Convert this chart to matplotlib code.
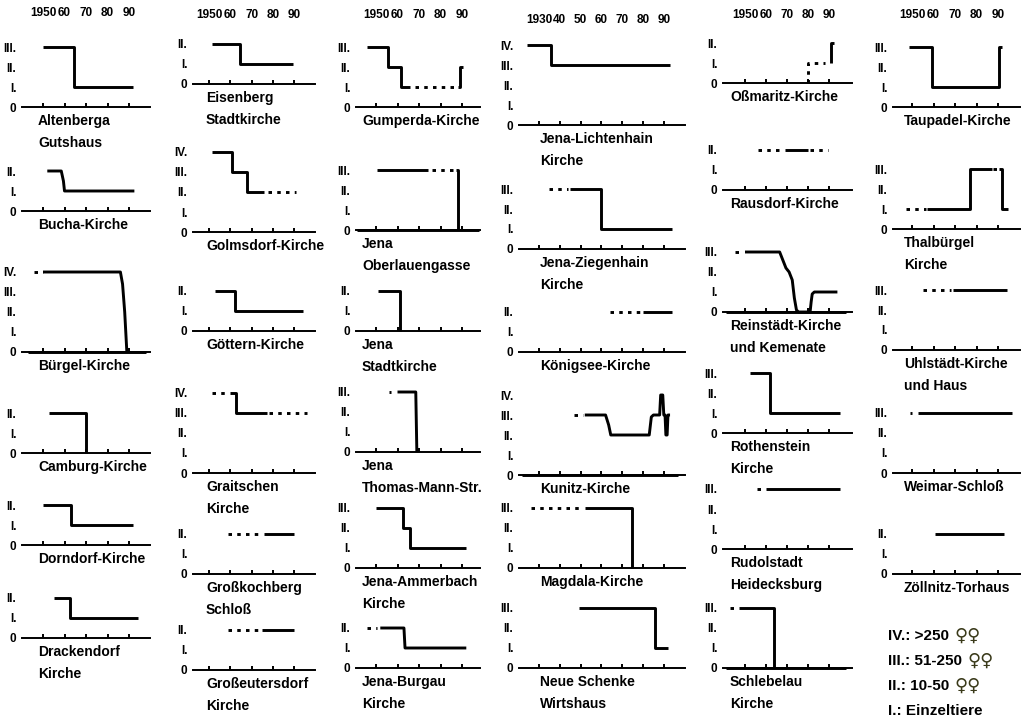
import matplotlib.pyplot as plt
from matplotlib.transforms import blended_transform_factory

plt.rcParams['font.family'] = ['Liberation Sans', 'DejaVu Sans']
plt.rcParams['font.weight'] = 'bold'

# Bestandsklassen und Jahre
LEVELS = ['0', 'I.', 'II.', 'III.', 'IV.']
YEARS = [1950, 1960, 1970, 1980, 1990]
YEAR_LABELS = ['1950', '60', '70', '80', '90']
YEARS_LONG = [1930, 1940, 1950, 1960, 1970, 1980, 1990]
YEAR_LABELS_LONG = ['1930', '40', '50', '60', '70', '80', '90']

# ---- Daten: (Jahr, Klasse); _obs = belegt (Linie), _est = vermutet (punktiert)
# Spalte 1
altenberga_obs = [[(1950, 3), (1964.5, 3), (1964.5, 1), (1992, 1)]]
altenberga_est = []
bucha_obs = [[(1952, 2), (1958.5, 2), (1959.5, 1.5), (1960, 1), (1992.5, 1)]]
bucha_est = []
buergel_obs = [[(1950, 4), (1986, 4), (1987, 3.4), (1988, 2), (1989, 0)],
               [(1943, 0), (1998, 0)]]
buergel_est = [[(1946, 4), (1950, 4)]]
camburg_obs = [[(1953, 2), (1970, 2), (1970, 0)]]
camburg_est = []
dorndorf_obs = [[(1950, 2), (1963, 2), (1963, 1), (1992, 1)]]
dorndorf_est = []
drackendorf_obs = [[(1955, 2), (1962.5, 2), (1962.5, 1), (1994, 1)]]
drackendorf_est = []

# Spalte 2
eisenberg_obs = [[(1951.5, 2), (1964.5, 2), (1964.5, 1), (1989.5, 1)]]
eisenberg_est = []
golmsdorf_obs = [[(1951.5, 4), (1961, 4), (1961, 3), (1968, 3), (1968, 2), (1976, 2)]]
golmsdorf_est = [[(1977.5, 2), (1991, 2)]]
goettern_obs = [[(1953, 2), (1962, 2), (1962, 1), (1994, 1)]]
goettern_est = []
graitschen_obs = [[(1960, 4), (1962.5, 4), (1962.5, 3), (1977, 3)]]
graitschen_est = [[(1951.5, 4), (1959, 4)], [(1978, 3), (1996, 3)]]
grosskochberg_obs = [[(1976, 2), (1990, 2)]]
grosskochberg_est = [[(1959, 2), (1975, 2)]]
grosseutersdorf_obs = [[(1975, 2), (1990, 2)]]
grosseutersdorf_est = [[(1959, 2), (1974, 2)]]

# Spalte 3
gumperda_obs = [[(1946, 3), (1955.5, 3), (1955.5, 2), (1961.5, 2), (1961.5, 1), (1966, 1)],
                [(1988, 1), (1989, 1), (1989, 2), (1990.5, 2)]]
gumperda_est = [[(1968, 1), (1987, 1)]]
oberlauengasse_obs = [[(1950.5, 3), (1974, 3)], [(1987, 3), (1988, 3), (1988, 0)],
                      [(1941, 0), (1998, 0)]]
oberlauengasse_est = [[(1976, 3), (1986, 3)]]
stadtkirche_obs = [[(1951, 2), (1961, 2), (1961, 0)]]
stadtkirche_est = []
thomasmann_obs = [[(1960, 3), (1968.5, 3), (1969, 0)]]
thomasmann_est = [[(1956, 3), (1957, 3)]]
ammerbach_obs = [[(1950, 3), (1962.5, 3), (1962.5, 2), (1966, 2), (1966, 1), (1992, 1)]]
ammerbach_est = []
burgau_obs = [[(1952, 2), (1963, 2), (1963.5, 1), (1992, 1)]]
burgau_est = [[(1946, 2), (1950.5, 2)]]

# Spalte 4 (ab 1930)
lichtenhain_obs = [[(1924, 4), (1936, 4), (1936, 3), (1993, 3)]]
lichtenhain_est = []
ziegenhain_obs = [[(1945, 3), (1960, 3), (1960, 1), (1994, 1)]]
ziegenhain_est = [[(1935, 3), (1944, 3)]]
koenigsee_obs = [[(1980, 2), (1994, 2)]]
koenigsee_est = [[(1964, 2), (1979, 2)]]
kunitz_obs = [[(1952, 3), (1962, 3), (1963.5, 2.5), (1964.5, 2), (1983, 2), (1984, 2.9),
               (1985, 3), (1988, 3), (1988.5, 4), (1989.5, 4), (1990, 3), (1990.6, 3),
               (1991, 2), (1991.6, 2), (1992, 3), (1993, 3)],
              [(1922, 0), (1997, 0)]]
kunitz_est = [[(1947, 3), (1951, 3)]]
magdala_obs = [[(1952, 3), (1974.5, 3), (1974.5, 0)]]
magdala_est = [[(1926, 3), (1951, 3)]]
neueschenke_obs = [[(1949, 3), (1986, 3), (1986, 1), (1992, 1)]]
neueschenke_est = []

# Spalte 5
ossmaritz_obs = [[(1991, 1), (1991, 2), (1992.5, 2)]]
ossmaritz_est = [[(1980, 0), (1980, 1), (1988, 1)]]
rausdorf_obs = [[(1969, 2), (1980, 2)]]
rausdorf_est = [[(1956, 2), (1968, 2)], [(1981, 2), (1989.5, 2)]]
reinstaedt_obs = [[(1950, 3), (1966.5, 3), (1968, 2.6), (1969.5, 2.2), (1971, 2.0),
                   (1972.5, 1.6), (1973.5, 0.7), (1974.5, 0.1), (1975.5, 0),
                   (1981, 0), (1981.5, 0.5), (1982, 0.9), (1983, 1), (1994, 1)],
                  [(1941, 0), (1998, 0)]]
reinstaedt_est = [[(1945, 3), (1949, 3)]]
rothenstein_obs = [[(1952.5, 3), (1962, 3), (1962, 1), (1995, 1)]]
rothenstein_est = []
rudolstadt_obs = [[(1960, 3), (1995, 3)]]
rudolstadt_est = [[(1955.5, 3), (1959, 3)]]
schlebelau_obs = [[(1947, 3), (1964, 3), (1964, 0)], [(1941, 0), (1998, 0)]]
schlebelau_est = [[(1943, 3), (1946, 3)]]

# Spalte 6
taupadel_obs = [[(1948.5, 3), (1959.5, 3), (1959.5, 1), (1990.5, 1), (1990.5, 3), (1992, 3)]]
taupadel_est = []
thalbuergel_obs = [[(1957, 1), (1977, 1), (1977, 3), (1987, 3)],
                   [(1990.5, 3), (1992, 3), (1992, 1), (1994.5, 1)]]
thalbuergel_est = [[(1947, 1), (1956.5, 1)], [(1987.5, 3), (1990, 3)]]
uhlstaedt_obs = [[(1969, 3), (1994, 3)]]
uhlstaedt_est = [[(1955, 3), (1968, 3)]]
weimar_obs = [[(1953, 3), (1996.5, 3)]]
weimar_est = [[(1949, 3), (1950, 3)]]
zoellnitz_obs = [[(1960.5, 2), (1993, 2)]]
zoellnitz_est = []

LEGEND = ['IV.: >250', 'III.: 51-250', 'II.: 10-50', 'I.: Einzeltiere']
LEGEND_SYM = ['♀♀', '♀♀', '♀♀', '']

# ---- Layout (Pixel)
W, H = 1025, 722
STEP = 20  # Pixel je Klasse
# anchor year, px of anchor, px per year, axis x0, axis x1, name x, header y
COLS = [
    (1950, 43, 2.15, 22, 150, 38, 13),
    (1950, 209, 2.13, 193, 315, 206, 15),
    (1950, 376, 2.15, 356, 480, 362, 15),
    (1930, 539, 2.08, 519, 685, 540, 20),
    (1950, 745, 2.10, 723, 852, 730, 15),
    (1950, 912, 2.15, 893, 1020, 904, 15),
]

PANELS = [
    (0, 107, 3, ['Altenberga', 'Gutshaus'], altenberga_obs, altenberga_est),
    (0, 211, 2, ['Bucha-Kirche'], bucha_obs, bucha_est),
    (0, 352, 4, ['Bürgel-Kirche'], buergel_obs, buergel_est),
    (0, 453, 2, ['Camburg-Kirche'], camburg_obs, camburg_est),
    (0, 545, 2, ['Dorndorf-Kirche'], dorndorf_obs, dorndorf_est),
    (0, 638, 2, ['Drackendorf', 'Kirche'], drackendorf_obs, drackendorf_est),
    (1, 84, 2, ['Eisenberg', 'Stadtkirche'], eisenberg_obs, eisenberg_est),
    (1, 232, 4, ['Golmsdorf-Kirche'], golmsdorf_obs, golmsdorf_est),
    (1, 331, 2, ['Göttern-Kirche'], goettern_obs, goettern_est),
    (1, 473, 4, ['Graitschen', 'Kirche'], graitschen_obs, graitschen_est),
    (1, 574, 2, ['Großkochberg', 'Schloß'], grosskochberg_obs, grosskochberg_est),
    (1, 670, 2, ['Großeutersdorf', 'Kirche'], grosseutersdorf_obs, grosseutersdorf_est),
    (2, 107, 3, ['Gumperda-Kirche'], gumperda_obs, gumperda_est),
    (2, 230, 3, ['Jena', 'Oberlauengasse'], oberlauengasse_obs, oberlauengasse_est),
    (2, 331, 2, ['Jena', 'Stadtkirche'], stadtkirche_obs, stadtkirche_est),
    (2, 452, 3, ['Jena', 'Thomas-Mann-Str.'], thomasmann_obs, thomasmann_est),
    (2, 568, 3, ['Jena-Ammerbach', 'Kirche'], ammerbach_obs, ammerbach_est),
    (2, 668, 2, ['Jena-Burgau', 'Kirche'], burgau_obs, burgau_est),
    (3, 125, 4, ['Jena-Lichtenhain', 'Kirche'], lichtenhain_obs, lichtenhain_est),
    (3, 249, 3, ['Jena-Ziegenhain', 'Kirche'], ziegenhain_obs, ziegenhain_est),
    (3, 352, 2, ['Königsee-Kirche'], koenigsee_obs, koenigsee_est),
    (3, 475, 4, ['Kunitz-Kirche'], kunitz_obs, kunitz_est),
    (3, 568, 3, ['Magdala-Kirche'], magdala_obs, magdala_est),
    (3, 668, 3, ['Neue Schenke', 'Wirtshaus'], neueschenke_obs, neueschenke_est),
    (4, 83, 2, ['Oßmaritz-Kirche'], ossmaritz_obs, ossmaritz_est),
    (4, 190, 2, ['Rausdorf-Kirche'], rausdorf_obs, rausdorf_est),
    (4, 312, 3, ['Reinstädt-Kirche', 'und Kemenate'], reinstaedt_obs, reinstaedt_est),
    (4, 433, 3, ['Rothenstein', 'Kirche'], rothenstein_obs, rothenstein_est),
    (4, 549, 3, ['Rudolstadt', 'Heidecksburg'], rudolstadt_obs, rudolstadt_est),
    (4, 668, 3, ['Schlebelau', 'Kirche'], schlebelau_obs, schlebelau_est),
    (5, 107, 3, ['Taupadel-Kirche'], taupadel_obs, taupadel_est),
    (5, 229, 3, ['Thalbürgel', 'Kirche'], thalbuergel_obs, thalbuergel_est),
    (5, 350, 3, ['Uhlstädt-Kirche', 'und Haus'], uhlstaedt_obs, uhlstaedt_est),
    (5, 473, 3, ['Weimar-Schloß'], weimar_obs, weimar_est),
    (5, 574, 2, ['Zöllnitz-Torhaus'], zoellnitz_obs, zoellnitz_est),
]

fig = plt.figure(figsize=(W / 100, H / 100), dpi=100)
fig.patch.set_facecolor('white')


def make_panel(col, base, top, names, obs, est):
    year0, px0, ppy, x0, x1, name_x, _ = COLS[col]
    xlim = (year0 + (x0 - px0) / ppy, year0 + (x1 - px0) / ppy)
    ytop = top + 0.5
    ax = fig.add_axes([x0 / W, 1 - base / H, (x1 - x0) / W, ytop * STEP / H])
    ax.set_xlim(*xlim)
    ax.set_ylim(0, ytop)
    for s in ['top', 'left', 'right']:
        ax.spines[s].set_visible(False)
    ax.spines['bottom'].set_linewidth(1.4)
    ticks = YEARS_LONG if year0 == 1930 else YEARS
    ax.set_xticks(ticks)
    ax.set_xticklabels([])
    ax.tick_params(axis='x', direction='in', length=3, width=1.4)
    ax.set_yticks(range(top + 1))
    ax.set_yticklabels(LEVELS[:top + 1], fontsize=8.5, fontweight='bold')
    ax.tick_params(axis='y', length=0, pad=4)
    for line in obs:
        xs = [p[0] for p in line]
        ys = [p[1] for p in line]
        ax.plot(xs, ys, color='black', lw=2.1, clip_on=False,
                solid_capstyle='butt', solid_joinstyle='round')
    for line in est:
        xs = [p[0] for p in line]
        ys = [p[1] for p in line]
        ax.plot(xs, ys, color='black', lw=2.1, clip_on=False,
                linestyle=(0, (1.2, 1.8)))
    for i, nm in enumerate(names):
        fig.text(name_x / W, 1 - (base + 14 + 22 * i) / H, nm, fontsize=10,
                 fontweight='bold', ha='left', va='center')
    return ax


first = {}
for col, base, top, names, obs, est in PANELS:
    ax = make_panel(col, base, top, names, obs, est)
    if col not in first:
        first[col] = ax

# Jahreszahlen oben
for col, ax in first.items():
    year0 = COLS[col][0]
    hy = COLS[col][6]
    tr = blended_transform_factory(ax.transData, fig.transFigure)
    yrs = YEARS_LONG if year0 == 1930 else YEARS
    labs = YEAR_LABELS_LONG if year0 == 1930 else YEAR_LABELS
    for yr, lab in zip(yrs, labs):
        ax.text(yr, 1 - hy / H, lab, transform=tr, fontsize=8.5,
                fontweight='bold', ha='center', va='center')

# Legende
renderer = fig.canvas.get_renderer()
for i, (t, sym) in enumerate(zip(LEGEND, LEGEND_SYM)):
    y = 1 - (636 + 25 * i) / H
    txt = fig.text(888 / W, y, t, fontsize=11, fontweight='bold',
                   ha='left', va='center')
    if sym:
        bb = txt.get_window_extent(renderer)
        fig.text((bb.x1 + 5) / W, y, sym, fontsize=13, fontweight='bold',
                 family='DejaVu Sans', color='#3a3a1a', ha='left', va='center')

fig.savefig('out.png', dpi=100)
